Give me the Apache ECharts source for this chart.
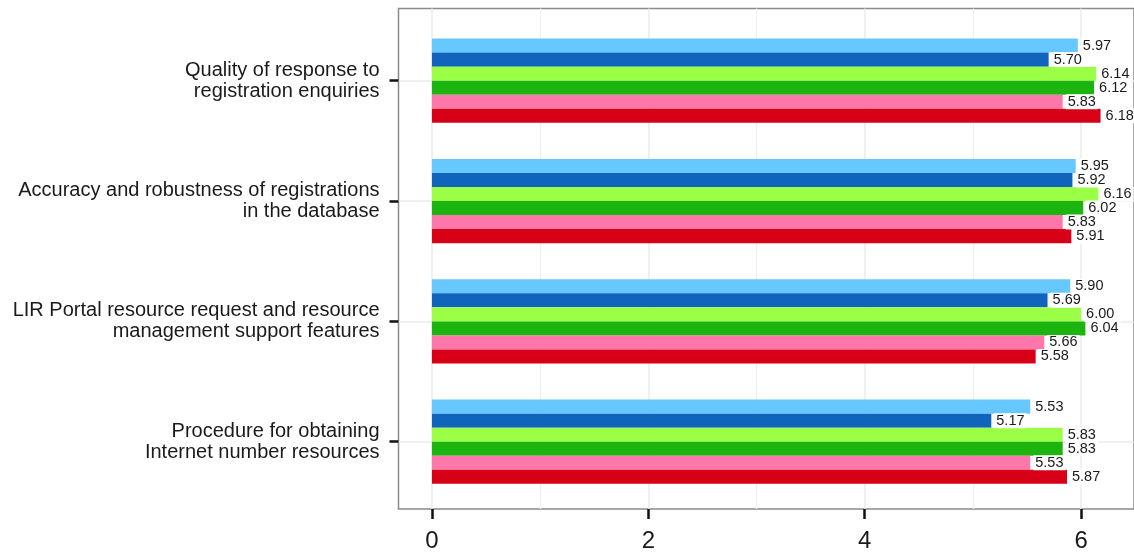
<!DOCTYPE html>
<html>
<head>
<meta charset="utf-8">
<script src="https://cdn.jsdelivr.net/npm/echarts@6/dist/echarts.min.js"></script>
<style>
html,body{margin:0;padding:0;background:#fff;}
#chart{width:1134px;height:553px;}
</style>
</head>
<body>
<div id="chart"></div>
<script>
// ---- data ----
const categories = [
  'Quality of response to\nregistration enquiries',
  'Accuracy and robustness of registrations\nin the database',
  'LIR Portal resource request and resource\nmanagement support features',
  'Procedure for obtaining\nInternet number resources'
];
const seriesNames = ['Series 1', 'Series 2', 'Series 3', 'Series 4', 'Series 5', 'Series 6'];
const series1 = [5.97, 5.95, 5.90, 5.53];
const series2 = [5.70, 5.92, 5.69, 5.17];
const series3 = [6.14, 6.16, 6.00, 5.83];
const series4 = [6.12, 6.02, 6.04, 5.83];
const series5 = [5.83, 5.83, 5.66, 5.53];
const series6 = [6.18, 5.91, 5.58, 5.87];
const xTicks = [0, 2, 4, 6];
const xMajorGrid = [0, 2, 4, 6];
const xMinorGrid = [1, 3, 5];

const seriesData = [series1, series2, series3, series4, series5, series6];
const colors = ['#66c8ff', '#1064bc', '#9aff45', '#1cb40f', '#fd77ab', '#d70017'];

const xMin = -0.309, xMax = 6.489;
const font = '"Liberation Sans", Arial, Helvetica, sans-serif';

const chart = echarts.init(document.getElementById('chart'), null, {renderer: 'canvas'});

const barSeries = seriesData.map((d, i) => ({
  name: seriesNames[i],
  type: 'bar',
  xAxisIndex: 0,
  yAxisIndex: 0,
  data: d,
  z: 3,
  barGap: '0%',
  barCategoryGap: '30%',
  itemStyle: {color: colors[i]},
  label: {
    show: true,
    position: 'right',
    distance: 3,
    formatter: p => p.value.toFixed(2),
    fontFamily: font,
    fontSize: 14.5,
    color: '#1a1a1a',
    backgroundColor: '#ffffff',
    padding: [0, 2, 0, 2]
  }
}));

// horizontal grid lines at category centres (non-bar series so no bar offset)
const catGridSeries = {
  type: 'line',
  xAxisIndex: 0,
  yAxisIndex: 0,
  data: [],
  silent: true,
  z: 0,
  markLine: {
    silent: true,
    symbol: 'none',
    z: 0,
    label: {show: false},
    lineStyle: {color: '#ebebeb', width: 1.5, type: 'solid'},
    data: categories.map(c => ({yAxis: c}))
  }
};

const gridSeries = {
  type: 'line',
  xAxisIndex: 1,
  yAxisIndex: 1,
  data: [],
  silent: true,
  z: 0,
  markLine: {
    silent: true,
    symbol: 'none',
    z: 0,
    label: {show: false},
    data: xMajorGrid.map(v => ({xAxis: v, lineStyle: {color: '#ebebeb', width: 1.5, type: 'solid'}}))
      .concat(xMinorGrid.map(v => ({xAxis: v, lineStyle: {color: '#f0f0f0', width: 1.2, type: 'solid'}})))
  }
};

chart.setOption({
  animation: false,
  backgroundColor: '#ffffff',
  grid: [
    {left: 398.5, top: 20.5, width: 736.5, height: 481.4, show: false},
    {left: 398.5, top: 8.5, width: 736.5, height: 505.5, show: true,
     borderColor: '#8a8a8a', borderWidth: 1.5, backgroundColor: 'transparent'}
  ],
  xAxis: [
    {type: 'value', gridIndex: 0, min: xMin, max: xMax, show: false},
    {type: 'value', gridIndex: 1, min: xMin, max: xMax, position: 'bottom',
     axisLine: {show: false, onZero: false},
     splitLine: {show: false},
     axisTick: {show: true, customValues: xTicks, length: 10, lineStyle: {color: '#111', width: 2.5}},
     axisLabel: {show: true, customValues: xTicks, fontFamily: font, fontSize: 24, color: '#1a1a1a', margin: 20}
    }
  ],
  yAxis: [
    {type: 'category', gridIndex: 0, data: categories, inverse: true, position: 'left',
     axisLine: {show: false, onZero: false},
     splitLine: {show: false},
     axisTick: {show: true, alignWithLabel: true, length: 9, lineStyle: {color: '#111', width: 2.5}},
     axisLabel: {fontFamily: font, fontSize: 20, color: '#1a1a1a', lineHeight: 21, margin: 19, align: 'right'}
    },
    {type: 'value', gridIndex: 1, show: false, min: 0, max: 1}
  ],
  series: [catGridSeries, gridSeries].concat(barSeries)
});
</script>
</body>
</html>
